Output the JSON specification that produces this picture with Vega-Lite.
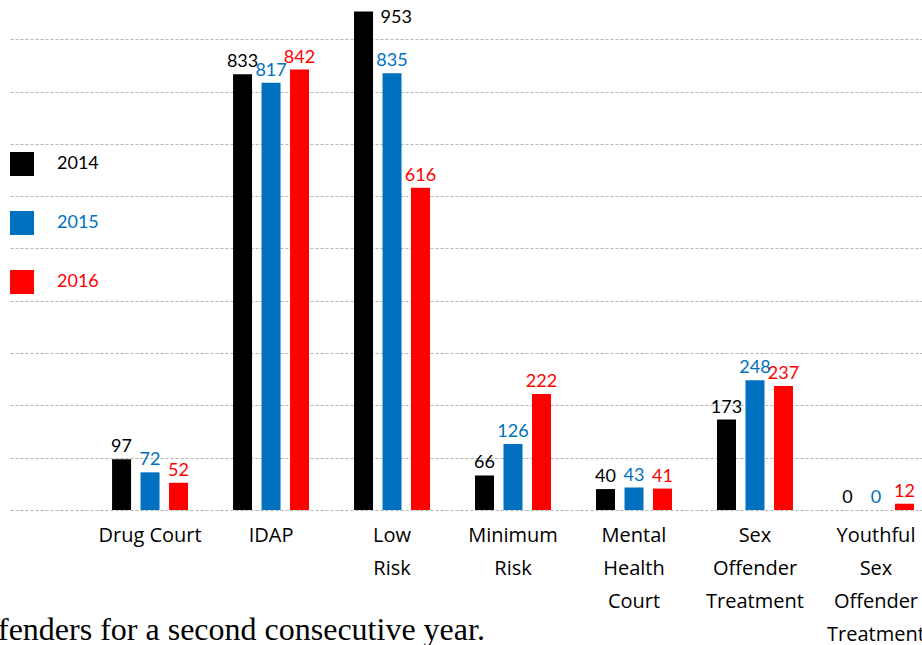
{
  "$schema": "https://vega.github.io/schema/vega-lite/v6.json",
  "width": 912,
  "height": 510,
  "autosize": {"type": "none"},
  "padding": {"left": 10, "top": 0, "right": 0, "bottom": 135},
  "background": "white",
  "title": {
    "text": "fenders for a second consecutive year.",
    "orient": "bottom",
    "anchor": "start",
    "frame": "group",
    "font": "Liberation Serif",
    "fontSize": 32,
    "fontWeight": "normal",
    "color": "black",
    "dx": -12,
    "offset": -29
  },
  "data": {
    "values": [
      {"program": "Drug Court", "year": "2014", "count": 97},
      {"program": "Drug Court", "year": "2015", "count": 72},
      {"program": "Drug Court", "year": "2016", "count": 52},
      {"program": "IDAP", "year": "2014", "count": 833},
      {"program": "IDAP", "year": "2015", "count": 817},
      {"program": "IDAP", "year": "2016", "count": 842},
      {"program": "Low Risk", "year": "2014", "count": 953},
      {"program": "Low Risk", "year": "2015", "count": 835},
      {"program": "Low Risk", "year": "2016", "count": 616},
      {"program": "Minimum Risk", "year": "2014", "count": 66},
      {"program": "Minimum Risk", "year": "2015", "count": 126},
      {"program": "Minimum Risk", "year": "2016", "count": 222},
      {"program": "Mental Health Court", "year": "2014", "count": 40},
      {"program": "Mental Health Court", "year": "2015", "count": 43},
      {"program": "Mental Health Court", "year": "2016", "count": 41},
      {"program": "Sex Offender Treatment", "year": "2014", "count": 173},
      {"program": "Sex Offender Treatment", "year": "2015", "count": 248},
      {"program": "Sex Offender Treatment", "year": "2016", "count": 237},
      {"program": "Youthful Sex Offender Treatment", "year": "2014", "count": 0},
      {"program": "Youthful Sex Offender Treatment", "year": "2015", "count": 0},
      {"program": "Youthful Sex Offender Treatment", "year": "2016", "count": 12}
    ]
  },
  "encoding": {
    "x": {
      "field": "program",
      "type": "nominal",
      "sort": null,
      "scale": {"paddingInner": 0.372, "paddingOuter": 0.455, "align": 0.927},
      "axis": {
        "title": null,
        "domain": false,
        "ticks": false,
        "labelAngle": 0,
        "labelFont": "Open Sans",
        "labelFontSize": 20,
        "labelColor": "black",
        "labelPadding": 15,
        "labelLineHeight": 33,
        "labelBaseline": "top",
        "labelOverlap": false,
        "labelBound": false,
        "labelLimit": 0,
        "labelExpr": "datum.label == 'Drug Court' ? datum.label : split(datum.label, ' ')"
      }
    },
    "xOffset": {
      "field": "year",
      "type": "nominal",
      "scale": {"paddingInner": 0.333, "paddingOuter": 0}
    },
    "y": {
      "field": "count",
      "type": "quantitative",
      "scale": {"domain": [0, 975], "nice": false, "zero": true},
      "axis": {
        "title": null,
        "domain": false,
        "ticks": false,
        "labels": false,
        "grid": true,
        "gridDash": [3, 2],
        "gridColor": "#b4b4b4",
        "gridWidth": 1,
        "values": [0, 100, 200, 300, 400, 500, 600, 700, 800, 900]
      }
    },
    "color": {
      "field": "year",
      "type": "nominal",
      "scale": {"domain": ["2014", "2015", "2016"], "range": ["#000000", "#0070C0", "#FF0000"]},
      "legend": {
        "title": null,
        "orient": "none",
        "legendX": 0,
        "legendY": 152,
        "padding": 0,
        "symbolType": "square",
        "symbolSize": 576,
        "symbolStrokeWidth": 0,
        "symbolOpacity": 1,
        "labelFont": "Lato",
        "labelFontSize": 18,
        "labelOffset": 23,
        "rowPadding": 35,
        "encode": {
          "labels": {"update": {"fill": {"scale": "color", "field": "value"}}},
          "symbols": {"update": {"fill": {"scale": "color", "field": "value"}, "stroke": {"value": null}}}
        }
      }
    }
  },
  "layer": [
    {"mark": {"type": "bar"}},
    {
      "transform": [{"filter": "datum.count < 900"}],
      "mark": {"type": "text", "font": "Lato", "fontSize": 18, "baseline": "bottom", "dy": -3},
      "encoding": {"text": {"field": "count", "type": "quantitative"}}
    },
    {
      "transform": [{"filter": "datum.count >= 900"}],
      "mark": {"type": "text", "font": "Lato", "fontSize": 18, "baseline": "top", "align": "left", "dx": 17, "dy": -3},
      "encoding": {"text": {"field": "count", "type": "quantitative"}}
    }
  ],
  "config": {"view": {"stroke": null}}
}
